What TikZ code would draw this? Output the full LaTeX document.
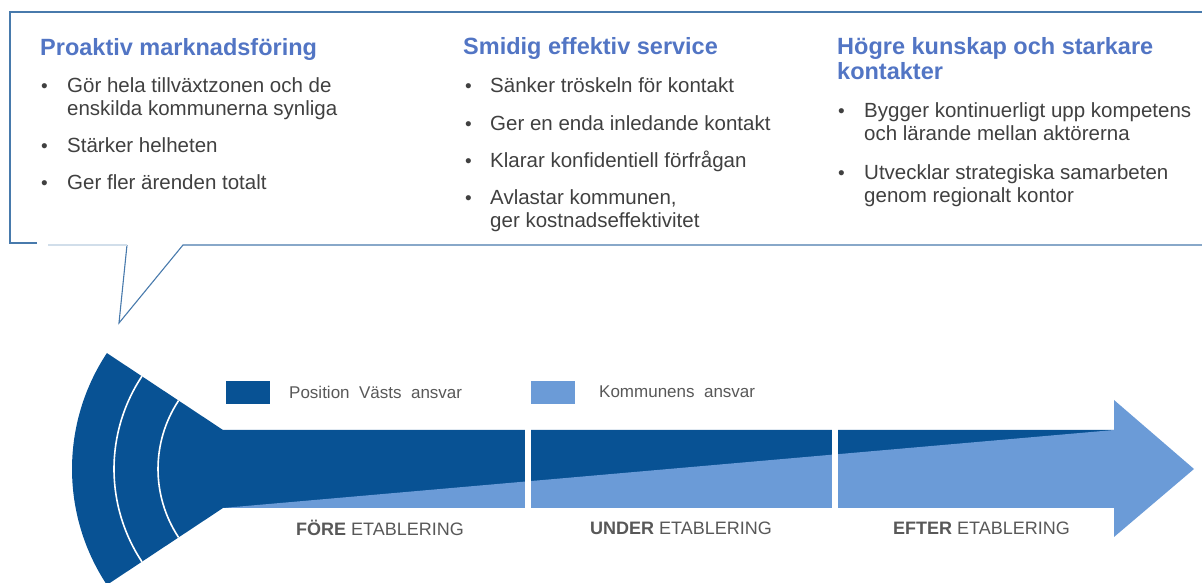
\documentclass[tikz,border=0pt]{standalone}
\usepackage{fontspec}
\setmainfont{Liberation Sans}
\usetikzlibrary{calc}
\definecolor{darkblue}{RGB}{8,82,148}
\definecolor{lightblue}{RGB}{107,155,215}
\definecolor{titleblue}{RGB}{82,117,196}
\definecolor{textgray}{RGB}{64,64,64}
\definecolor{labgray}{RGB}{88,88,88}
\definecolor{callout}{RGB}{72,122,172}
\begin{document}
\begin{tikzpicture}[
    x=1pt, y=1pt,
    coltitle/.style={font=\fontsize{23.5}{25}\selectfont\bfseries, text=titleblue,
        anchor=base west, inner sep=0pt, align=left},
    point/.style={font=\fontsize{20.5}{22.5}\selectfont, text=textgray,
        anchor=base west, inner sep=0pt, align=left},
    dotmark/.style={font=\fontsize{19}{19}\selectfont, text=textgray,
        anchor=base west, inner sep=0pt},
    legbox/.style={minimum width=44pt, minimum height=23pt, inner sep=0pt},
    legtext/.style={font=\fontsize{17}{17}\selectfont, text=labgray, anchor=west, inner sep=0pt},
    phase/.style={font=\fontsize{18}{18}\selectfont, text=labgray, anchor=west, inner sep=0pt},
    gap/.style={fill=white},
    ring/.style={draw=white, line width=1.6pt}
]
\useasboundingbox (0,0) rectangle (1202,583);
% callout
\draw[callout, line width=1.1pt] (37,340) -- (10,340) -- (10,571) -- (1204,571);
\draw[callout, line width=1.1pt] (1204,338) -- (183,338) -- (119,260) -- (127,338);
\draw[callout!25, line width=1.1pt] (48,338) -- (127,338);

% column 1 (multi-line nodes sit on their last baseline)
\node[coltitle] (t1) at (40,527) {Proaktiv marknadsföring};
\node[dotmark] (d11) at (41,490) {•};
\node[point] (p11) at (67,467.5) {Gör hela tillväxtzonen och de\\enskilda kommunerna synliga};
\node[dotmark] (d12) at (41,430) {•};
\node[point] (p12) at (67,430) {Stärker helheten};
\node[dotmark] (d13) at (41,393) {•};
\node[point] (p13) at (67,393) {Ger fler ärenden totalt};

% column 2
\node[coltitle] (t2) at (463,528) {Smidig effektiv service};
\node[dotmark] (d21) at (465,490) {•};
\node[point] (p21) at (490,490) {Sänker tröskeln för kontakt};
\node[dotmark] (d22) at (465,452) {•};
\node[point] (p22) at (490,452) {Ger en enda inledande kontakt};
\node[dotmark] (d23) at (465,415) {•};
\node[point] (p23) at (490,415) {Klarar konfidentiell förfrågan};
\node[dotmark] (d24) at (465,378) {•};
\node[point] (p24) at (490,355.5) {Avlastar kommunen,\\ger kostnadseffektivitet};

% column 3
\node[coltitle] (t3) at (837,503) {Högre kunskap och starkare\\kontakter};
\node[dotmark] (d31) at (838,465) {•};
\node[point] (p31) at (864,442.5) {Bygger kontinuerligt upp kompetens\\och lärande mellan aktörerna};
\node[dotmark] (d32) at (838,403) {•};
\node[point] (p32) at (864,380.5) {Utvecklar strategiska samarbeten\\genom regionalt kontor};

% legend
\node[legbox, fill=darkblue] (lk1) at (248,190.5) {};
\node[legtext] (lt1) at (289,191) {Position\ \ Västs\ \ ansvar};
\node[legbox, fill=lightblue] (lk2) at (553,190.5) {};
\node[legtext] (lt2) at (599,191) {Kommunens\ \ ansvar};

% fan and bar
\coordinate (apex) at (282,114);
\fill[darkblue] (apex) ++(146.5:210) arc[start angle=146.5, end angle=213.5, radius=210]
    -- (223,75) -- (1114,75) -- (1114,153) -- (223,153) -- cycle;
\fill[lightblue] (223,75) -- (1114,153) -- (1114,183) -- (1194,114) -- (1114,46)
    -- (1114,75) -- cycle;
\fill[gap] (525,70) rectangle (531,158);
\fill[gap] (832,70) rectangle (838,158);
\draw[ring] (apex) ++(146.5:168) arc[start angle=146.5, end angle=213.5, radius=168];
\draw[ring] (apex) ++(146.5:124) arc[start angle=146.5, end angle=213.5, radius=124];

% phases
\node[phase] (f1) at (296,55) {\textbf{FÖRE} ETABLERING};
\node[phase] (f2) at (590,55) {\textbf{UNDER} ETABLERING};
\node[phase] (f3) at (893,55) {\textbf{EFTER} ETABLERING};
\end{tikzpicture}
\end{document}
